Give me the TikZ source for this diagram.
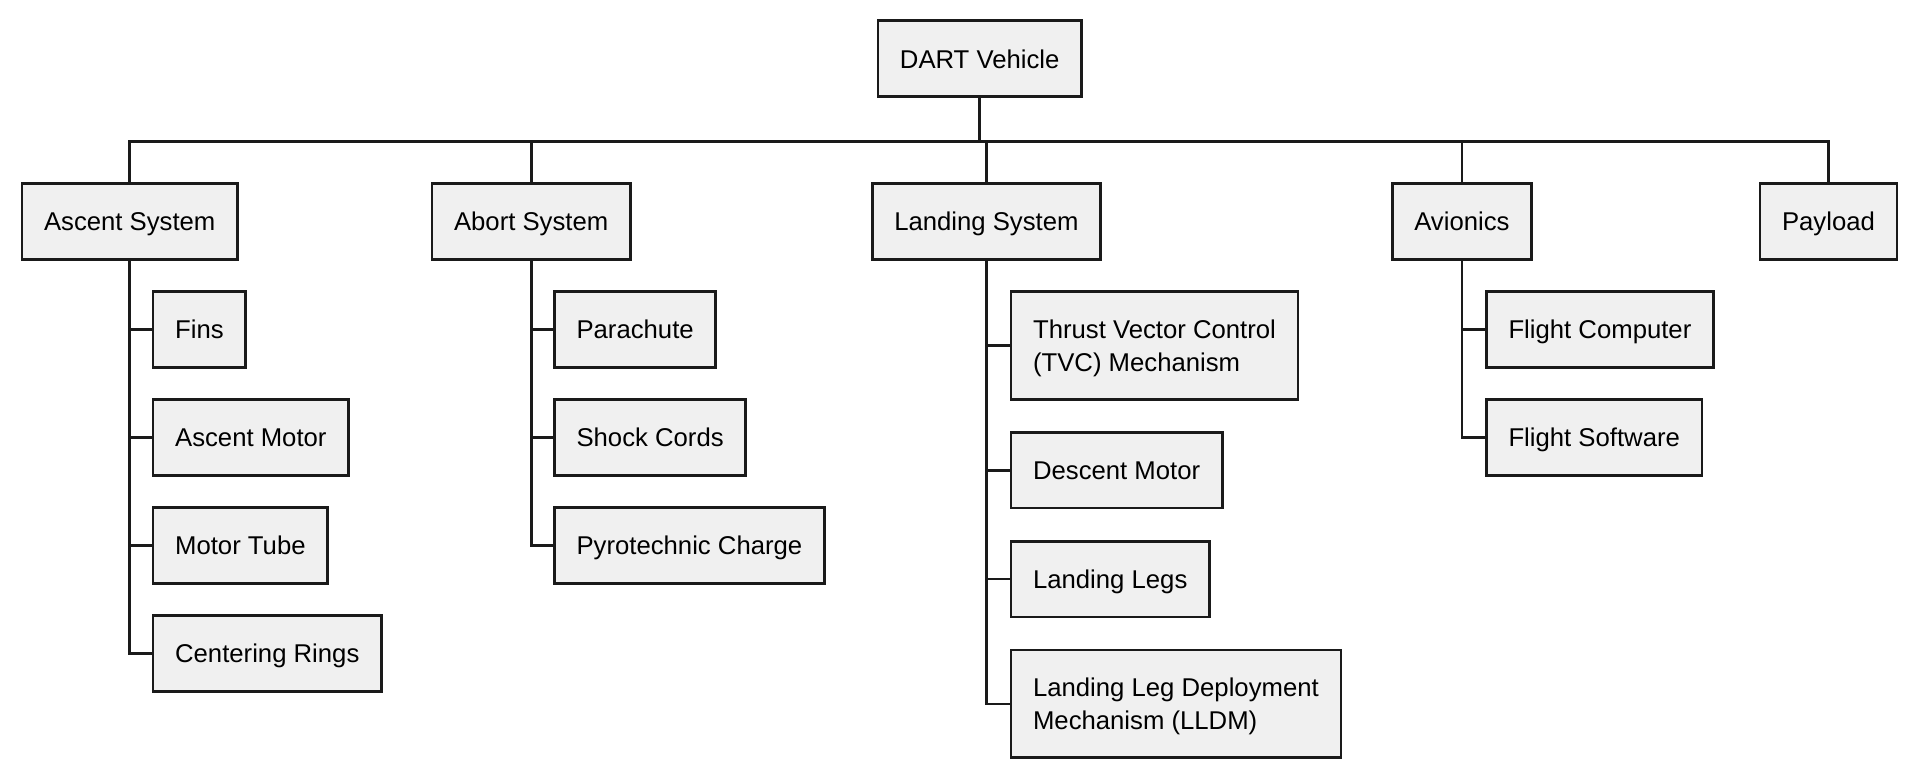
\documentclass[tikz,border=0pt]{standalone}
\usepackage{fontspec}
\setmainfont{Liberation Sans}
\usepackage{xcolor}
\usetikzlibrary{positioning}
\definecolor{boxfill}{HTML}{F0F0F0}
\definecolor{boxline}{HTML}{1A1A1A}

\begin{document}
\begin{tikzpicture}[
    font=\fontsize{10.5}{13.5}\selectfont,
    box/.style={draw=boxline, fill=boxfill, line width=1.1pt, rectangle, inner xsep=9pt, inner ysep=4pt, minimum height=31pt, text height=7.6pt, text depth=0pt},
    part/.style={box, align=left},
    tallpart/.style={part, minimum height=44pt, text height=, text depth=0pt},
    link/.style={draw=boxline, line width=1.1pt}
]
    \useasboundingbox (0,0) rectangle (784pt,-317.5pt);

    \node (dart) [box] at (400.25pt,-24pt) {DART Vehicle};

    \node (asc) [box] at (53pt,-90.5pt) {Ascent System};
    \node (abo) [box] at (217pt,-90.5pt) {Abort System};
    \node (lan) [box] at (403pt,-90.5pt) {Landing System};
    \node (avi) [box] at (597.25pt,-90.5pt) {Avionics};
    \node (pay) [box] at (747pt,-90.5pt) {Payload};

    % ascent system parts
    \node (fins) [part, below right=12pt and 9pt of asc.south] {Fins};
    \node (ascmot) [part, below right=12pt and 0pt of fins.south west] {Ascent Motor};
    \node (mtube) [part, below right=12pt and 0pt of ascmot.south west] {Motor Tube};
    \node (rings) [part, below right=12pt and 0pt of mtube.south west] {Centering Rings};

    % abort system parts
    \node (chute) [part, below right=12pt and 9pt of abo.south] {Parachute};
    \node (cords) [part, below right=12pt and 0pt of chute.south west] {Shock Cords};
    \node (pyro) [part, below right=12pt and 0pt of cords.south west] {Pyrotechnic Charge};

    % landing system parts
    \node (tvc) [tallpart, below right=12pt and 9.5pt of lan.south] {Thrust Vector Control\\(TVC) Mechanism};
    \node (desmot) [part, below right=12.4pt and 0pt of tvc.south west] {Descent Motor};
    \node (legs) [part, below right=12.4pt and 0pt of desmot.south west] {Landing Legs};
    \node (lldm) [tallpart, below right=12.4pt and 0pt of legs.south west] {Landing Leg Deployment\\Mechanism (LLDM)};

    % avionics parts
    \node (fcomp) [part, below right=12pt and 9.5pt of avi.south] {Flight Computer};
    \node (fsoft) [part, below right=12pt and 0pt of fcomp.south west] {Flight Software};

    \foreach \sub in {asc,abo,lan,avi,pay}
        \draw[link] (dart.south) -- ++(0,-17.75pt) -| (\sub.north);

    \foreach \sub/\prt in {asc/fins,asc/ascmot,asc/mtube,asc/rings,
                           abo/chute,abo/cords,abo/pyro,
                           lan/tvc,lan/desmot,lan/legs,lan/lldm,
                           avi/fcomp,avi/fsoft}
        \draw[link] (\sub.south) |- (\prt.west);
\end{tikzpicture}
\end{document}
